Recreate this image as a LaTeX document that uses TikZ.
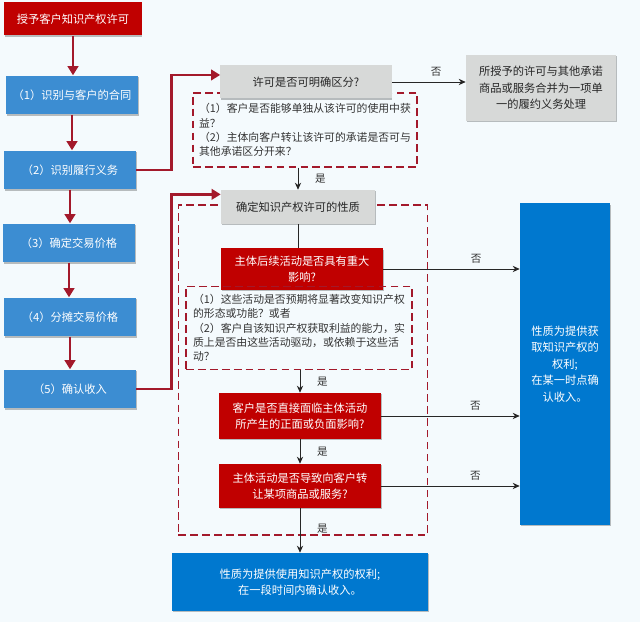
\documentclass[tikz,border=0pt]{standalone}
\usepackage{fontspec}
\setmainfont{Noto Sans CJK SC}
\usepackage{xcolor}
\usetikzlibrary{positioning, arrows, arrows.meta, shadows}

\definecolor{bgblue}{HTML}{F4FAFD}
\definecolor{boxred}{HTML}{C00000}
\definecolor{stepblue}{HTML}{3C8DD2}
\definecolor{deepblue}{HTML}{0078CF}
\definecolor{boxgray}{HTML}{D7D9D8}
\definecolor{linkred}{HTML}{A3192B}

\begin{document}
\begin{tikzpicture}[x=0.025cm, y=-0.025cm,
    every node/.style={font=\fontsize{8}{11}\selectfont},
    shade/.style={drop shadow={shadow xshift=0.6pt, shadow yshift=-1pt, opacity=0.25, fill=black}},
    stepbox/.style={rectangle, fill=stepblue, text=white, minimum width=3.3cm, minimum height=0.97cm, shade},
    topbox/.style={rectangle, fill=boxred, text=white, minimum width=3.425cm, minimum height=0.825cm, shade},
    redbox/.style={rectangle, fill=boxred, text=white, align=center, minimum width=4.05cm, shade},
    graybox/.style={rectangle, fill=boxgray, text=black!85, align=center, shade},
    bluebox/.style={rectangle, fill=deepblue, text=white, align=center, shade},
    dashbox/.style={rectangle, draw=linkred, line width=1pt, dash pattern=on 5.5pt off 3pt, align=left, text=black!80, font=\fontsize{7.7}{10.2}\selectfont},
    redlink/.style={draw=linkred, line width=2pt, -{Triangle[length=6.5pt, width=7.5pt]}},
    blacklink/.style={draw=black!85, line width=0.7pt, -{Stealth[length=5pt, width=4.5pt]}},
    lab/.style={font=\fontsize{7.5}{9}\selectfont, text=black!80}]
    \fill[bgblue] (0,0) rectangle (640,622);
    \useasboundingbox (0,0) rectangle (640,622);

    \node[topbox] (grant) at (73,19) {授予客户知识产权许可};
    \node[stepbox] (s1) at (72,95) {（1）识别与客户的合同};
    \node[stepbox] (s2) at (70,170) {（2）识别履行义务};
    \node[stepbox] (s3) at (69,243) {（3）确定交易价格};
    \node[stepbox] (s4) at (70,317) {（4）分摊交易价格};
    \node[stepbox] (s5) at (70,389) {（5）确认收入};

    \node[dashbox, minimum width=5.6cm, minimum height=1.85cm] (d1) at (305,130) {（1）客户是否能够单独从该许可的使用中获\\益？\\（2）主体向客户转让该许可的承诺是否可与\\其他承诺区分开来？};
    \node[graybox, minimum width=4.275cm, minimum height=0.825cm] (q1) at (306,82) {许可是否可明确区分?};
    \node[graybox, minimum width=3.75cm, minimum height=1.65cm, font=\fontsize{8}{11.8}\selectfont] (r1) at (541,88) {所授予的许可与其他承诺\\商品或服务合并为一项单\\一的履约义务处理};

    \node[dashbox, minimum width=6.225cm, minimum height=8.25cm] (scope) at (303,370) {};
    \node[graybox, minimum width=3.85cm, minimum height=0.85cm] (q2) at (298,207) {确定知识产权许可的性质};
    \node[redbox, minimum height=1.025cm] (n1) at (302,269) {主体后续活动是否具有重大\\影响?};
    \node[dashbox, minimum width=5.65cm, minimum height=2.075cm] (d2) at (299,328) {（1）这些活动是否预期将显著改变知识产权\\的形态或功能？或者\\（2）客户自该知识产权获取利益的能力，实\\质上是否由这些活动驱动，或依赖于这些活\\动？};
    \node[redbox, minimum height=1.15cm] (n2) at (300,416) {客户是否直接面临主体活动\\所产生的正面或负面影响?};
    \node[redbox, minimum height=1.1cm] (n3) at (300,486) {主体活动是否导致向客户转\\让某项商品或服务?};

    \node[bluebox, minimum width=6.4cm, minimum height=1.45cm] (b1) at (300,582) {性质为提供使用知识产权的权利;\\在一段时间内确认收入。};
    \node[bluebox, minimum width=2.25cm, minimum height=8.025cm, font=\fontsize{8}{11.8}\selectfont] (b2) at (565,364) {性质为提供获\\取知识产权的\\权利;\\在某一时点确\\认收入。};

    \draw[redlink] (grant) -- (grant |- s1.north);
    \draw[redlink] (s1) -- (s1 |- s2.north);
    \draw[redlink] (s2) -- (s2 |- s3.north);
    \draw[redlink] (s3) -- (s3 |- s4.north);
    \draw[redlink] (s4) -- (s4 |- s5.north);
    \draw[redlink] (s2.east) -- ++(35,0) |- ([yshift=5pt]q1.west);
    \draw[redlink] (s5.east) -- ++(35,0) |- ([yshift=9pt]q2.west);

    \draw[blacklink] (q1.east) -- node[lab, above, pos=0.6] {否} (q1.east -| r1.west);
    \draw[blacklink] (q2.north |- d1.south) -- node[lab, right=3mm] {是} (q2.north);
    \draw[draw=black!85, line width=0.7pt] (q2.south) -- (q2.south |- n1.north);
    \draw[blacklink] (n1.east) -- node[lab, above, pos=0.68] {否} (n1.east -| b2.west);
    \draw[blacklink] (n2.north |- d2.south) -- node[lab, right=3mm] {是} (n2.north);
    \draw[blacklink] (n2.east) -- node[lab, above, pos=0.68] {否} (n2.east -| b2.west);
    \draw[blacklink] (n3.north |- n2.south) -- node[lab, right=3mm] {是} (n3.north);
    \draw[blacklink] (n3.east) -- node[lab, above, pos=0.68] {否} (n3.east -| b2.west);
    \draw[blacklink] (n3.south) -- node[lab, right=3mm, pos=0.45] {是} (n3.south |- b1.north);
\end{tikzpicture}
\end{document}
